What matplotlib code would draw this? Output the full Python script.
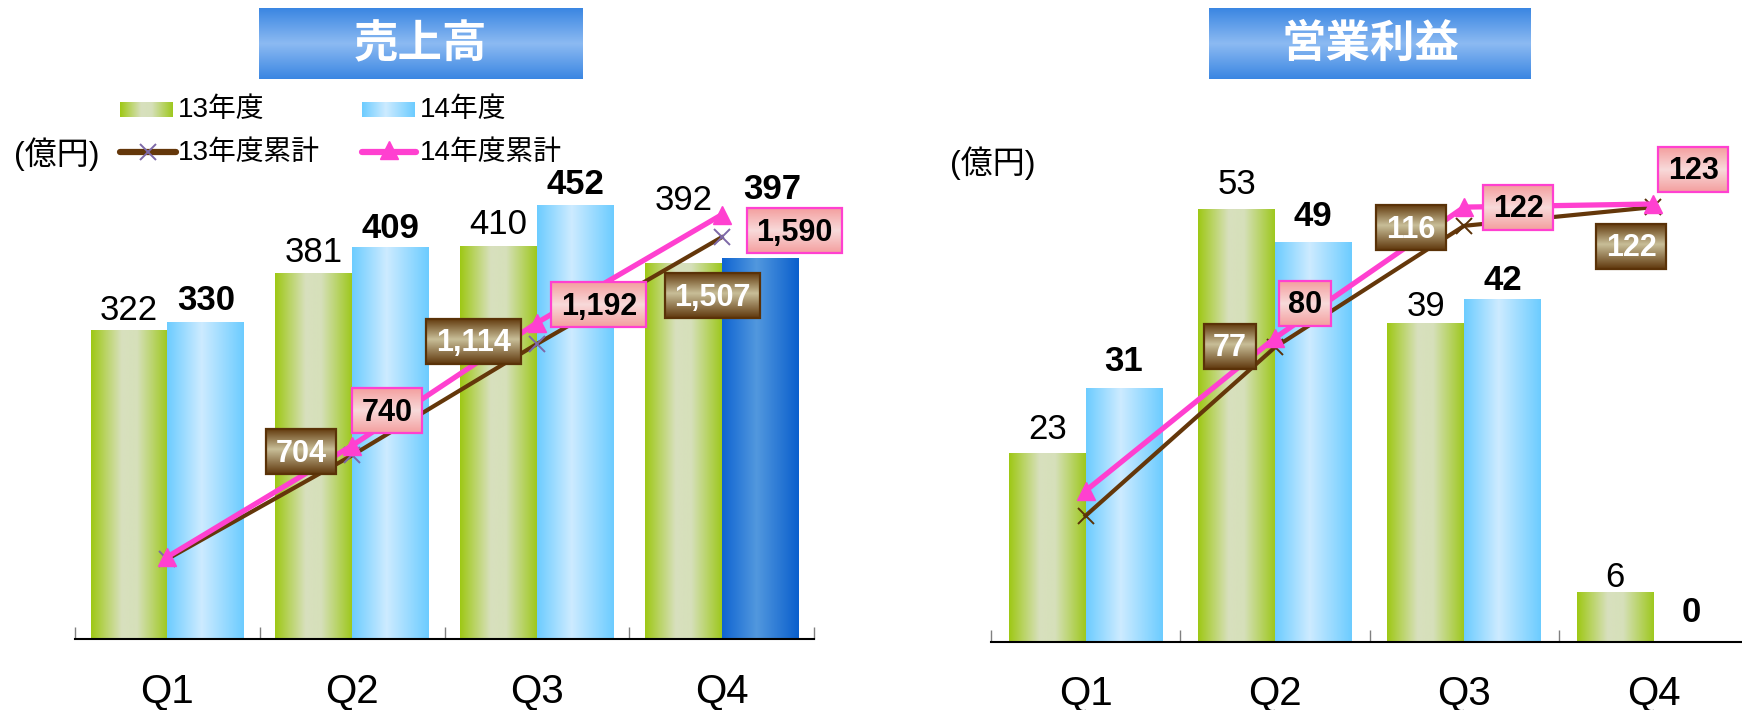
import numpy as np
import matplotlib
matplotlib.use('Agg')
import matplotlib.pyplot as plt
from matplotlib.patches import Rectangle

plt.rcParams['font.family'] = ['Liberation Sans', 'Noto Sans CJK JP', 'DejaVu Sans']

# data
quarters = ['Q1', 'Q2', 'Q3', 'Q4']
sales_13 = [322, 381, 410, 392]
sales_14 = [330, 409, 452, 397]
sales_cum_13 = [322, 704, 1114, 1507]
sales_cum_14 = [330, 740, 1192, 1590]
op_13 = [23, 53, 39, 6]
op_14 = [31, 49, 42, 0]
op_cum_13 = [23, 77, 116, 122]
op_cum_14 = [31, 80, 122, 123]

W, H = 1742, 710
fig = plt.figure(figsize=(W / 100, H / 100), dpi=100)

BROWN = '#64370a'
PINK = '#ff40d0'


def grad(stops, vertical=False):
    t = np.linspace(0, 1, 256)
    pos = [s[0] for s in stops]
    cols = np.array([np.interp(t, pos, [s[1][i] for s in stops]) for i in range(3)]).T / 255
    return cols[:, None, :] if vertical else cols[None, :, :]


G_GREEN = grad([(0, (158, 200, 20)), (0.4, (216, 224, 190)), (0.6, (214, 224, 186)), (1, (158, 200, 30))])
G_BLUE = grad([(0, (108, 204, 255)), (0.45, (205, 235, 255)), (1, (108, 204, 255))])
G_DARK = grad([(0, (15, 100, 210)), (0.45, (82, 152, 222)), (1, (10, 95, 205))])
G_BROWN = grad([(0, (100, 60, 15)), (0.45, (200, 190, 152)), (1, (95, 55, 12))], vertical=True)
G_PINK = grad([(0, (244, 158, 158)), (0.5, (248, 218, 218)), (1, (244, 158, 158))], vertical=True)
G_TITLE = grad([(0, (58, 134, 226)), (0.5, (140, 186, 242)), (1, (58, 134, 226))], vertical=True)


def px_axes(x0, x1, ytop, ybot):
    return fig.add_axes([x0 / W, (H - ybot) / H, (x1 - x0) / W, (ybot - ytop) / H])


# overlay in pixel coordinates for titles, legend and label boxes
ov = fig.add_axes([0, 0, 1, 1], zorder=10)
ov.axis('off')


def ov_grad(g, x0, x1, y0, y1, z=5):
    ov.imshow(g, extent=[x0, x1, y1, y0], aspect='auto', zorder=z, interpolation='bilinear')


def draw_chart(ax, v13, v14, c13, c14, bw, ymax, y2lim, lab13, lab14, lab14dx,
               box13, box14, xcol, dark_last):
    x = np.arange(len(quarters))
    b13 = ax.bar(x - bw / 2, v13, bw, color='none', zorder=2)
    b14 = ax.bar(x + bw / 2, v14, bw, color='none', zorder=2)
    for i, r in enumerate(b13):
        ax.imshow(G_GREEN, extent=[r.get_x(), r.get_x() + r.get_width(), 0, r.get_height()],
                  aspect='auto', zorder=2, interpolation='bilinear')
    for i, r in enumerate(b14):
        if r.get_height() <= 0:
            continue
        g = G_DARK if (dark_last and i == len(b14) - 1) else G_BLUE
        ax.imshow(g, extent=[r.get_x(), r.get_x() + r.get_width(), 0, r.get_height()],
                  aspect='auto', zorder=2, interpolation='bilinear')
    ax.set_xlim(-0.5, len(quarters) - 0.5)
    ax.set_ylim(0, ymax)
    for s in ['top', 'left', 'right']:
        ax.spines[s].set_visible(False)
    ax.spines['bottom'].set_linewidth(1.5)
    ax.set_yticks([])
    ax.set_xticks(x)
    ax.set_xticklabels(quarters, fontsize=29)
    ax.tick_params(axis='x', which='major', length=0, pad=24)
    ax.set_xticks(np.arange(-0.5, len(quarters)), minor=True)
    ax.tick_params(axis='x', which='minor', direction='in', length=8.5, color='#808080', width=1)

    for i in range(len(x)):
        ax.annotate(str(v13[i]), (x[i] - bw / 2, v13[i]), xytext=(0, lab13[i]),
                    textcoords='offset pixels', ha='center', va='baseline', fontsize=25)
        ax.annotate(str(v14[i]), (x[i] + bw / 2, v14[i]), xytext=(lab14dx[i], lab14[i]),
                    textcoords='offset pixels', ha='center', va='baseline', fontsize=25,
                    fontweight='bold')

    ax2 = ax.twinx()
    ax2.plot(x, c13, color=BROWN, lw=3, marker='x', ms=12, mew=1.4, mec=xcol, zorder=3)
    ax2.plot(x, c14, color=PINK, lw=3.8, marker='^', ms=13, zorder=4)
    ax2.set_ylim(*y2lim)
    ax2.set_xlim(-0.5, len(quarters) - 0.5)
    ax2.axis('off')

    for vals, offs, kind in [(c13, box13, 'brown'), (c14, box14, 'pink')]:
        for i, v in enumerate(vals):
            if offs[i] is None:
                continue
            px, py = ax2.transData.transform((x[i], v))
            cx, cy = px + offs[i][0], (H - py) + offs[i][1]
            txt = f'{v:,}'
            w = 18 + 17.3 * sum(ch.isdigit() for ch in txt) + 8 * txt.count(',')
            h = 45
            if kind == 'brown':
                ov_grad(G_BROWN, cx - w / 2, cx + w / 2, cy - h / 2, cy + h / 2)
                ov.add_patch(Rectangle((cx - w / 2, cy - h / 2), w, h, fill=False,
                                       ec='#5a3208', lw=1.6, zorder=6))
                ov.text(cx, cy + 2, txt, ha='center', va='center', color='white',
                        fontsize=22, fontweight='bold', zorder=7)
            else:
                ov_grad(G_PINK, cx - w / 2, cx + w / 2, cy - h / 2, cy + h / 2)
                ov.add_patch(Rectangle((cx - w / 2, cy - h / 2), w, h, fill=False,
                                       ec=PINK, lw=1.6, zorder=6))
                ov.text(cx, cy + 2, txt, ha='center', va='center', color='black',
                        fontsize=22, fontweight='bold', zorder=7)


ax_l = px_axes(75, 814, 180, 639)
draw_chart(ax_l, sales_13, sales_14, sales_cum_13, sales_cum_14, 0.415, 479, (27.6, 1718),
           [10.5, 12, 12.5, 53], [12.5, 9, 11.5, 60], [0, 0, 0, 12],
           [None, (-51, -3.5), (-63, -3), (-9, 58.5)],
           [None, (35, -35), (62, -18), (73, 16)],
           '#7d68a8', True)

ax_r = px_axes(991, 1748, 180, 641.5)
draw_chart(ax_r, op_13, op_14, op_cum_13, op_cum_14, 0.405, 56.7, (-17.35, 130.7),
           [15.5, 16.5, 8, 5.5], [18.5, 16.5, 9.5, 19], [0, 0, 0, 0],
           [None, (-45, -1), (-53, 2), (-22, 39)],
           [None, (30, -35), (54, 0), (40, -35)],
           '#5a3208', False)

# title boxes
for (x0, x1), title in [((259, 582), '売上高'), ((1209, 1531), '営業利益')]:
    ov_grad(G_TITLE, x0, x1, 8, 79)
    ov.text((x0 + x1) / 2, 45, title, ha='center', va='center', color='white',
            fontsize=32, fontweight='bold', zorder=7)

# legend
ov_grad(G_GREEN, 120, 173, 102, 117)
ov.text(178, 110, '13年度', ha='left', va='center', fontsize=20, zorder=7)
ov_grad(G_BLUE, 362, 414, 102, 117)
ov.text(420, 110, '14年度', ha='left', va='center', fontsize=20, zorder=7)
ov.text(57, 154, '(億円)', ha='center', va='center', fontsize=23, zorder=7)
ov.plot([120, 176], [152, 152], color=BROWN, lw=4.5, solid_capstyle='round', zorder=6)
ov.plot([148], [152], marker='x', ms=12, mew=1.4, color='#7d68a8', zorder=7)
ov.text(178, 153, '13年度累計', ha='left', va='center', fontsize=20, zorder=7)
ov.plot([362, 416], [152, 152], color=PINK, lw=4.5, solid_capstyle='round', zorder=6)
ov.plot([389], [150], marker='^', ms=13, color=PINK, zorder=7)
ov.text(420, 153, '14年度累計', ha='left', va='center', fontsize=20, zorder=7)
ov.text(993, 163, '(億円)', ha='center', va='center', fontsize=23, zorder=7)

ov.set_xlim(0, W)
ov.set_ylim(H, 0)

fig.savefig('out.png', dpi=100)
